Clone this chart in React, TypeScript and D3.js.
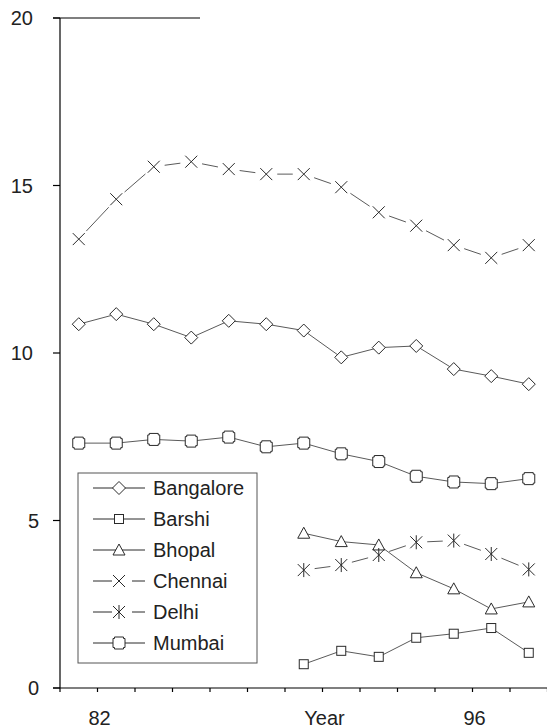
import React from "react";
import * as d3 from "d3";

// 13 observation periods along the category axis
const periods = ["1", "2", "3", "4", "5", "6", "7", "8", "9", "10", "11", "12", "13"];

const bangalore = [10.86, 11.16, 10.86, 10.46, 10.96, 10.86, 10.67, 9.87, 10.16, 10.21, 9.52, 9.31, 9.07];
const barshi = [null, null, null, null, null, null, 0.71, 1.11, 0.93, 1.5, 1.62, 1.79, 1.05];
const bhopal = [null, null, null, null, null, null, 4.62, 4.37, 4.27, 3.44, 2.96, 2.36, 2.57];
const chennai = [13.4, 14.59, 15.56, 15.71, 15.49, 15.34, 15.34, 14.95, 14.2, 13.8, 13.22, 12.84, 13.22];
const delhi = [null, null, null, null, null, null, 3.52, 3.67, 3.97, 4.35, 4.4, 4.0, 3.54];
const mumbai = [7.31, 7.31, 7.42, 7.37, 7.49, 7.2, 7.31, 6.99, 6.76, 6.32, 6.15, 6.1, 6.25];

const yTicks = [0, 5, 10, 15, 20];
// labels sitting on the band boundaries (tick marks)
const xTickLabels = ["", "82", "", "", "", "", "", "Year", "", "", "", "96", "", ""];

const W = 547;
const H = 728;
const FONT = "'Liberation Sans', Arial, Helvetica, sans-serif";
const LINE = "#5a5a5a";
const MARK = "#2a2a2a";

type Shape = "diamond" | "square" | "triangle" | "cross" | "star" | "mumbai";

const marker = (shape: Shape, cx: number, cy: number, key?: string) => {
  const p = { stroke: MARK, strokeWidth: 1, fill: "#fff" };
  if (shape === "diamond") {
    const r = 6.5;
    return <path key={key} d={`M${cx},${cy - r}L${cx + r},${cy}L${cx},${cy + r}L${cx - r},${cy}Z`} {...p} />;
  }
  if (shape === "square") {
    return <rect key={key} x={cx - 4.5} y={cy - 4.5} width={9} height={9} {...p} />;
  }
  if (shape === "triangle") {
    return <path key={key} d={`M${cx},${cy - 6}L${cx + 6},${cy + 5}L${cx - 6},${cy + 5}Z`} {...p} />;
  }
  if (shape === "mumbai") {
    const r = 6, n = 1.5;
    const d = `M${cx - r + n},${cy - r}H${cx + r - n}V${cy - r + n}H${cx + r}V${cy + r - n}H${cx + r - n}V${cy + r}H${cx - r + n}V${cy + r - n}H${cx - r}V${cy - r + n}H${cx - r + n}Z`;
    return <path key={key} d={d} {...p} />;
  }
  const r = 6;
  const x = `M${cx - r},${cy - r}L${cx + r},${cy + r}M${cx - r},${cy + r}L${cx + r},${cy - r}`;
  const d = shape === "star" ? x + `M${cx},${cy - r - 1}L${cx},${cy + r + 1}` : x;
  return <path key={key} d={d} stroke={MARK} strokeWidth={1} fill="none" />;
};

const series: { name: string; values: (number | null)[]; shape: Shape; gapped: boolean }[] = [
  { name: "Bangalore", values: bangalore, shape: "diamond", gapped: false },
  { name: "Barshi", values: barshi, shape: "square", gapped: false },
  { name: "Bhopal", values: bhopal, shape: "triangle", gapped: false },
  { name: "Chennai", values: chennai, shape: "cross", gapped: true },
  { name: "Delhi", values: delhi, shape: "star", gapped: true },
  { name: "Mumbai", values: mumbai, shape: "mumbai", gapped: false },
];

export default function App() {
  const x = d3.scaleBand<string>().domain(periods).range([60, 547.5]);
  const y = d3.scaleLinear().domain([0, 20]).range([688, 18]);
  const cx = (i: number) => (x(periods[i]) as number) + x.bandwidth() / 2;

  const line = d3
    .line<number | null>()
    .defined((d) => d !== null)
    .x((_, i) => cx(i))
    .y((d) => y(d as number));

  // segments that stop short of the markers
  const gappedSegments = (vals: (number | null)[], gap: number) => {
    const segs: string[] = [];
    for (let i = 0; i < vals.length - 1; i++) {
      const a = vals[i], b = vals[i + 1];
      if (a === null || b === null) continue;
      const x1 = cx(i), y1 = y(a), x2 = cx(i + 1), y2 = y(b);
      const len = Math.hypot(x2 - x1, y2 - y1);
      const ux = (x2 - x1) / len, uy = (y2 - y1) / len;
      segs.push(`M${x1 + ux * gap},${y1 + uy * gap}L${x2 - ux * gap},${y2 - uy * gap}`);
    }
    return segs.join("");
  };

  const boundaries = d3.range(periods.length + 1).map((i) => 60 + i * x.bandwidth());

  const legend = { x: 78, y: 473, w: 179, h: 190, row: 31 };

  return (
    <svg width={W} height={H} style={{ position: "absolute", left: 0, top: 0, background: "#fff" }}>
      {/* axes */}
      <line x1={60} x2={60} y1={18} y2={688} stroke="#000" strokeWidth={1.2} />
      <line x1={53} x2={547} y1={688} y2={688} stroke="#000" strokeWidth={1.2} />
      <line x1={53} x2={200} y1={18} y2={18} stroke="#000" strokeWidth={1.2} />
      {yTicks.map((t) => (
        <g key={t}>
          <line x1={53} x2={60} y1={y(t)} y2={y(t)} stroke="#000" strokeWidth={1.2} />
          <text
            x={String(t).length > 1 ? 33 : 39}
            y={y(t)}
            dy="0.36em"
            textAnchor="end"
            fontFamily={FONT}
            fontSize={20}
            fill="#222"
          >
            {t}
          </text>
        </g>
      ))}
      {boundaries.map((bx, i) => (
        <g key={i}>
          <line x1={bx} x2={bx} y1={688} y2={692} stroke="#000" strokeWidth={1.2} />
          {xTickLabels[i] && (
            <text x={bx + 2} y={725} textAnchor="middle" fontFamily={FONT} fontSize={20} fill="#222">
              {xTickLabels[i]}
            </text>
          )}
        </g>
      ))}

      {/* series lines */}
      {series.map((s) => (
        <path
          key={s.name}
          d={s.gapped ? gappedSegments(s.values, 11) : (line(s.values) as string)}
          fill="none"
          stroke={LINE}
          strokeWidth={1}
        />
      ))}

      {/* legend */}
      <rect x={legend.x} y={legend.y} width={legend.w} height={legend.h} fill="#fff" stroke="#555" strokeWidth={1} />
      {series.map((s, i) => {
        const ly = legend.y + 15 + i * legend.row;
        return (
          <g key={s.name}>
            {s.gapped ? (
              <path d={`M93,${ly}H112M132,${ly}H145`} stroke={MARK} strokeWidth={1} />
            ) : (
              <line x1={93} x2={145} y1={ly} y2={ly} stroke={MARK} strokeWidth={1} />
            )}
            {marker(s.shape, 119, ly)}
            <text x={153} y={ly} dy="0.36em" fontFamily={FONT} fontSize={20} fill="#222">
              {s.name}
            </text>
          </g>
        );
      })}

      {/* markers */}
      {series.map((s) => (
        <g key={s.name}>
          {s.values.map((v, i) => (v === null ? null : marker(s.shape, cx(i), y(v), `${s.name}${i}`)))}
        </g>
      ))}
    </svg>
  );
}
